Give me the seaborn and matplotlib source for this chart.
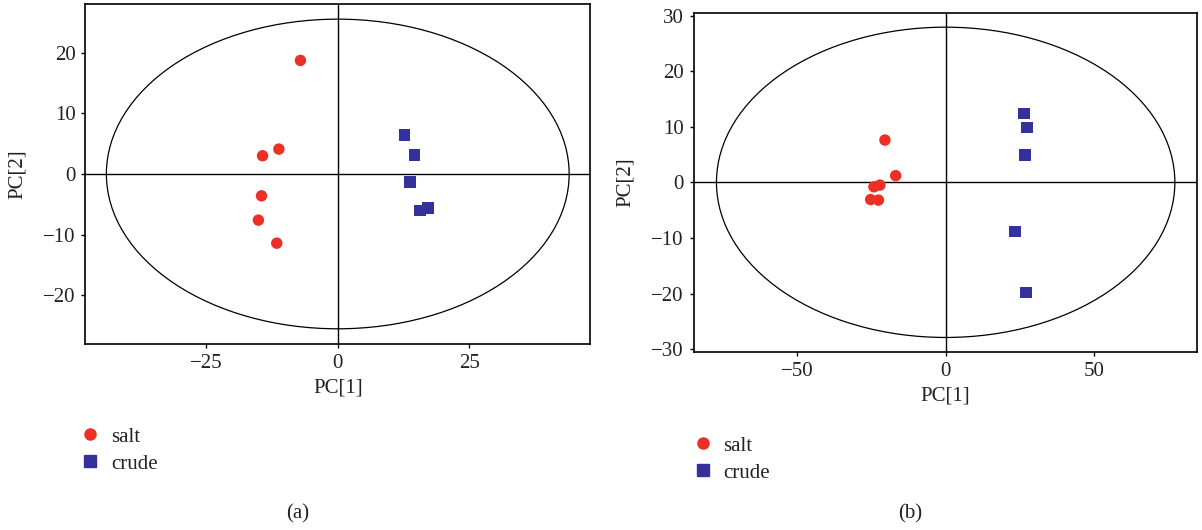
import matplotlib
matplotlib.use("Agg")
import matplotlib.pyplot as plt
import seaborn as sns
import pandas as pd
from matplotlib.patches import Ellipse
from matplotlib.lines import Line2D

# ---------------- data ----------------
groups = ["salt", "crude"]

a_salt_pc1 = [-7.1, -11.2, -14.3, -14.5, -15.1, -11.6]
a_salt_pc2 = [18.7, 4.1, 3.0, -3.6, -7.6, -11.4]
a_crude_pc1 = [12.7, 14.6, 13.7, 15.6, 17.2]
a_crude_pc2 = [6.4, 3.1, -1.3, -6.0, -5.6]

b_salt_pc1 = [-20.4, -16.8, -22.1, -24.1, -25.2, -22.6]
b_salt_pc2 = [7.6, 1.2, -0.5, -0.8, -3.1, -3.2]
b_crude_pc1 = [26.3, 27.3, 26.6, 23.3, 27.0]
b_crude_pc2 = [12.4, 9.9, 4.9, -8.8, -19.8]

# Hotelling T2 ellipse half-axes (PC1, PC2)
a_ellipse = (44.0, 25.5)
b_ellipse = (77.0, 27.9)

a_xticks = [-25, 0, 25]
a_yticks = [-20, -10, 0, 10, 20]
b_xticks = [-50, 0, 50]
b_yticks = [-30, -20, -10, 0, 10, 20, 30]

panel_labels = ["(a)", "(b)"]

# ---------------- style ----------------
sns.set_theme(style="white")
plt.rcParams["font.family"] = ["Liberation Serif", "DejaVu Serif"]
plt.rcParams["axes.unicode_minus"] = True

RED = "#EC3025"
BLUE = "#35319A"
TXT = "#222222"
FS = 15
palette = {"salt": RED, "crude": BLUE}
markers = {"salt": "o", "crude": "s"}


def make_df(sx, sy, cx, cy):
    return pd.DataFrame({
        "PC1": list(sx) + list(cx),
        "PC2": list(sy) + list(cy),
        "group": ["salt"] * len(sx) + ["crude"] * len(cx),
    })


df_a = make_df(a_salt_pc1, a_salt_pc2, a_crude_pc1, a_crude_pc2)
df_b = make_df(b_salt_pc1, b_salt_pc2, b_crude_pc1, b_crude_pc2)

fig = plt.figure(figsize=(12.02, 5.30), dpi=100)
axA = fig.add_axes([0.071, 0.351, 0.420, 0.6415])
axB = fig.add_axes([0.577, 0.336, 0.419, 0.640])


def draw(ax, df, ell, xlim, ylim, xticks, yticks):
    ax.add_patch(Ellipse((0, 0), 2 * ell[0], 2 * ell[1], fill=False,
                         edgecolor="black", linewidth=0.9, zorder=1))
    ax.axhline(0, color="black", linewidth=1.0, zorder=1)
    ax.axvline(0, color="black", linewidth=1.0, zorder=1)
    sns.scatterplot(data=df, x="PC1", y="PC2", hue="group", style="group",
                    palette=palette, markers=markers, hue_order=groups,
                    style_order=groups, s=68, linewidth=0, legend=False,
                    ax=ax, zorder=3)
    ax.set_xlim(*xlim)
    ax.set_ylim(*ylim)
    ax.set_xticks(xticks)
    ax.set_yticks(yticks)
    ax.set_xlabel("PC[1]", fontsize=FS, color=TXT, labelpad=4)
    ax.set_ylabel("PC[2]", fontsize=FS, color=TXT, labelpad=12)
    ax.tick_params(axis="both", which="both", bottom=True, left=True,
                   direction="out", length=3, width=1, color="black",
                   labelsize=FS, labelcolor=TXT, pad=4)
    for sp in ax.spines.values():
        sp.set_color("black")
        sp.set_linewidth(1.2)


draw(axA, df_a, a_ellipse, (-48, 48), (-28, 28), a_xticks, a_yticks)
draw(axB, df_b, b_ellipse, (-84.7, 84.5), (-30.5, 30.5), b_xticks, b_yticks)

handles = [
    Line2D([], [], marker="o", linestyle="", color=RED, markersize=8),
    Line2D([], [], marker="s", linestyle="", color=BLUE, markersize=8),
]

for x0, y0 in [(0.068, 0.194), (0.5776, 0.177)]:
    fig.legend(handles, groups, loc="upper left", bbox_to_anchor=(x0, y0),
               bbox_transform=fig.transFigure, frameon=False, fontsize=FS,
               borderpad=0, borderaxespad=0, handlelength=0.8,
               handletextpad=0.6, labelspacing=0.35, labelcolor=TXT)

fig.text(298 / 1202, 1 - 514 / 530, panel_labels[0], ha="center", va="center",
         fontsize=FS, color=TXT)
fig.text(910 / 1202, 1 - 514 / 530, panel_labels[1], ha="center", va="center",
         fontsize=FS, color=TXT)

fig.savefig("out.png", dpi=100)
